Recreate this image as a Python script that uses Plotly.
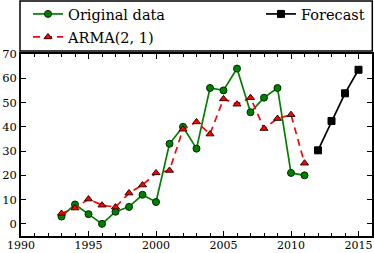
import plotly.graph_objects as go

years_obs = list(range(1993, 2012))
original = [3, 8, 4, 0, 5, 7, 12, 9, 33, 40, 31, 56, 55, 64, 46, 52, 56, 21, 20]
arma = [4.3, 6.5, 10.2, 7.7, 6.9, 12.7, 16, 21, 22, 39, 42, 37, 51.5, 49.3, 52, 39.3, 43.4, 45, 25]
years_fc = [2012, 2013, 2014, 2015]
forecast = [30.3, 42.4, 53.8, 63.5]

x_ticks = [1990, 1995, 2000, 2005, 2010, 2015]
y_ticks = [0, 10, 20, 30, 40, 50, 60, 70]

W, H = 374, 253
ML, MR, MT, MB = 21, 2, 54, 17
PW, PH = W - ML - MR, H - MT - MB

def px_x(p):
    return (p - ML) / PW

def px_y(p):
    return (H - MB - p) / PH

FONT = "DejaVu Serif"

fig = go.Figure()
fig.add_trace(go.Scatter(
    x=years_obs, y=original, mode="lines+markers", name="Original data",
    line=dict(color="#008000", width=1.7),
    marker=dict(symbol="circle", size=7, color="#008000", line=dict(color="#002a00", width=1)),
    legend="legend", showlegend=True,
))
fig.add_trace(go.Scatter(
    x=years_obs, y=arma, mode="lines+markers", name="ARMA(2, 1)",
    line=dict(color="#ff0000", width=1.7, dash="7px,5px"),
    marker=dict(symbol="triangle-up", size=7, color="#ff0000", line=dict(color="#330000", width=1)),
    legend="legend2", showlegend=True,
))
fig.add_trace(go.Scatter(
    x=years_fc, y=forecast, mode="lines+markers", name="Forecast",
    line=dict(color="black", width=1.7),
    marker=dict(symbol="square", size=7, color="black", line=dict(color="black", width=1)),
    legend="legend3", showlegend=True,
))

leg_common = dict(bgcolor="rgba(0,0,0,0)", borderwidth=0, visible=True,
                  font=dict(family=FONT, size=14.5, color="black"),
                  xanchor="left", yanchor="middle")
fig.update_layout(
    width=W, height=H, showlegend=True,
    margin=dict(l=ML, r=MR, t=MT, b=MB, autoexpand=False),
    paper_bgcolor="white", plot_bgcolor="white",
    font=dict(family=FONT, size=11.5, color="black"),
    legend=dict(x=px_x(28), y=px_y(14), **leg_common),
    legend2=dict(x=px_x(28), y=px_y(37), **leg_common),
    legend3=dict(x=px_x(261), y=px_y(14), **leg_common),
    shapes=[dict(type="rect", xref="paper", yref="paper",
                 x0=px_x(20), x1=px_x(372.3), y0=px_y(51), y1=px_y(1),
                 line=dict(color="black", width=1.5), fillcolor="rgba(0,0,0,0)")],
)
fig.update_xaxes(
    range=[1990, 2016], tickvals=x_ticks, ticktext=[str(v) for v in x_ticks],
    ticks="inside", ticklen=5, tickwidth=1, tickcolor="black", ticklabelstandoff=-2,
    minor=dict(dtick=1, tick0=1990, ticks="inside", ticklen=3, tickwidth=1, tickcolor="black", showgrid=False),
    showline=True, linewidth=1.8, linecolor="black", mirror="ticks",
    showgrid=False, zeroline=False, tickfont=dict(family=FONT, size=11),
)
fig.update_yaxes(
    range=[-5, 70], tickvals=y_ticks, ticktext=[str(v) for v in y_ticks],
    ticks="inside", ticklen=5, tickwidth=1, tickcolor="black",
    showline=True, linewidth=1.8, linecolor="black", mirror="ticks",
    showgrid=False, zeroline=False, tickfont=dict(family=FONT, size=11.5),
)
fig.write_html("out.html", config={"displayModeBar": False},
               post_script="document.body.style.margin='0';document.body.style.padding='0';")
